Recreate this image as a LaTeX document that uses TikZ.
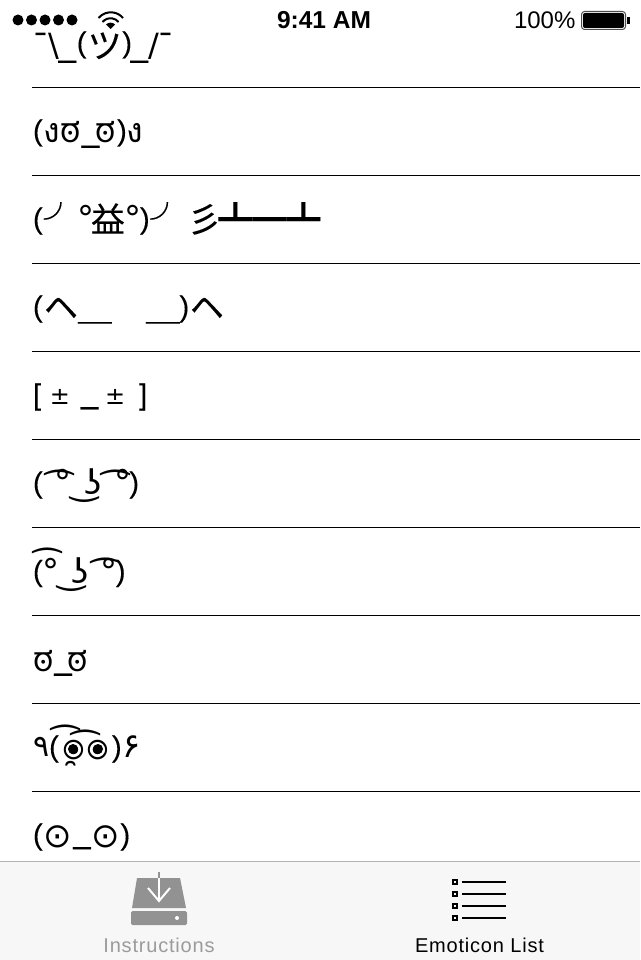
\documentclass[tikz,border=0pt]{standalone}
\usepackage{fontspec}
\setmainfont{Liberation Sans}
\newfontfamily\cjkfont[FakeBold=0.15]{Noto Sans CJK JP}
\newfontfamily\kanfont[Script=Kannada]{Hind Mysuru}
\newfontfamily\thaifont[Script=Thai]{Loma}
\newfontfamily\arabfont[Script=Arabic]{DejaVu Sans}
\newfontfamily\dejafont{DejaVu Sans}
\newfontfamily\parfont[FakeBold=0.2]{Liberation Sans}
\newfontfamily\tabfont[LetterSpace=4]{Liberation Sans}
\definecolor{tabgray}{HTML}{F7F7F7}
\definecolor{iconI}{HTML}{929292}
\definecolor{textI}{HTML}{9B9B9B}
\newcommand{\opar}{{\parfont\fontsize{29}{29}\selectfont(}\kern1.3pt}
\newcommand{\cpar}{\kern0.6pt{\parfont\fontsize{29}{29}\selectfont)}\kern0.7pt}
\newcommand{\obrk}{{\parfont\fontsize{29}{29}\selectfont[}\kern1.3pt}
\newcommand{\cbrk}{{\parfont\fontsize{29}{29}\selectfont]}\kern1.3pt}
\newcommand{\usc}{{\cjkfont\_}}
\newcommand{\topbar}{\raisebox{-5.7pt}{\dejafont ¯}}
\newcommand{\cjklow}[2]{\raisebox{#1pt}{\cjkfont #2}}
\newcommand{\kan}{\raisebox{-2.5pt}{\kanfont ಠ}}
\newcommand{\degr}{\raisebox{-2pt}{\dejafont °}}
\newcommand{\plusminus}{{\dejafont\fontsize{24}{24}\selectfont ±}}
\newcommand{\browarc}[2]{\rlap{\kern#1pt\raisebox{#2pt}{\dejafont\char"A0\char"361}}}
\newcommand{\eyeball}{\raisebox{-3pt}{\thaifont\fontsize{38}{38}\selectfont ๏}}
\tikzset{
  emote/.style={anchor=base west,inner sep=0pt,outer sep=0pt,font=\fontsize{34}{34}\selectfont},
  status/.style={anchor=base west,inner sep=0pt,outer sep=0pt,font=\fontsize{24}{24}\selectfont},
  tablabel/.style={anchor=base,inner sep=0pt,outer sep=0pt,font=\fontsize{20}{20}\selectfont\tabfont},
  rowline/.style={black,line width=1pt}
}
\begin{document}
\begin{tikzpicture}[x=1pt,y=-1pt]
  \useasboundingbox (0,0) rectangle (640,960);
  \fill[white] (0,0) rectangle (640,960);

  % row rules
  \foreach \ypos in {87.5,175.5,...,791.5}
    \draw[rowline] (32,\ypos) -- (640,\ypos);

  % emoticons
  \node[emote] (shrug) at (33,52.5) {\kern-1pt\topbar\kern-1pt\raisebox{-4.5pt}{\dejafont\fontsize{32}{32}\selectfont\textbackslash}\kern-1pt\cjklow{-5.5}{\_}\opar\cjklow{-5.5}{ツ}\cpar\kern-3pt\cjklow{-5.5}{\_}\raisebox{-4.5pt}{\dejafont\fontsize{32}{32}\selectfont/}\kern-2pt\topbar};
  \node[emote] (fight) at (33,140.5) {\opar\raisebox{-2pt}{\thaifont ง}\kan\raisebox{-2.5pt}{\usc}\kern-5pt\kan\kern1pt\cpar\kern-1pt\raisebox{-2pt}{\thaifont ง}};
  \node[emote] (flip) at (33,228.5) {\opar\cjklow{-3.5}{╯}\kern-0.5pt\degr\kern-3.5pt\cjklow{-3.5}{益}\degr\kern-2.5pt\cpar\cjklow{-3.5}{╯}\kern3pt\cjklow{-3.5}{彡}\kern-3pt\cjklow{-3.5}{┻━┻}};
  \node[emote] (bow) at (33,316.5) {\opar\cjklow{-3}{ヘ＿　＿}\kern-1pt\cpar\cjklow{-3}{ヘ}};
  \node[emote] (square) at (33,404.5) {\obrk\kern7.6pt\plusminus\kern10pt\usc\kern6pt\plusminus\kern14pt\cbrk};
  \node[emote] (lenny) at (33,492.5) {\opar\kern10.5pt\browarc{-6}{-9}\degr\kern13.5pt\raisebox{-2pt}{\dejafont ͜ʖ}\kern12.5pt\browarc{-10}{-9}\degr\kern-3pt\cpar};
  \node[emote] (brow) at (33,581) {\opar\kern-1pt\browarc{-6}{2}\degr\kern12pt\raisebox{-2pt}{\dejafont ͜ʖ}\kern11pt\browarc{-6}{-8}\degr\kern-2pt\cpar};
  \node[emote] (look) at (33,668.5) {\kan\raisebox{-2.5pt}{\usc}\kern-5pt\kan};
  \node[emote] (cheer) at (33,756.5) {{\arabfont\fontsize{30}{30}\selectfont ٩}\opar\kern2pt\browarc{-7}{0}\rlap{\kern7pt\raisebox{-2pt}{\dejafont\char"A0\char"32F}}\eyeball\kern1pt\browarc{-12}{-5}\eyeball\kern2pt\cpar\raisebox{-1pt}{\arabfont ۶}};
  \node[emote] (stare) at (33,844.5) {\opar\raisebox{-3pt}{\dejafont ⊙}\usc\raisebox{-3pt}{\dejafont ⊙}\cpar};

  % pupils of the cheer face
  \fill (73,749) circle (5);
  \fill (98,749) circle (5);

  % status bar
  \foreach \xpos in {18,31.5,45,58.5,72}
    \fill (\xpos,20) circle (5.5);
  \draw[line width=2pt] (98.5,18) arc[start angle=-140,end angle=-40,radius=16];
  \draw[line width=2pt] (102.5,22) arc[start angle=-140,end angle=-40,radius=10.5];
  \fill (110.5,29) -- (106,24.5) arc[start angle=-135,end angle=-45,radius=6.4] -- cycle;
  \node[status] (clock) at (277,29) {\fontsize{24.5}{24.5}\selectfont\bfseries 9:41 AM};
  \node[status] (charge) at (514,29) {100\%};
  \draw[black!70,rounded corners=3pt,line width=1pt] (581.5,11.5) rectangle (625.5,29.5);
  \fill[rounded corners=2pt] (583,13) rectangle (624,28);
  \fill (627,17) rectangle (629.5,24);

  % tab bar
  \fill[tabgray] (0,861) rectangle (640,960);
  \draw[black!30,line width=1pt] (0,861.5) -- (640,861.5);
  \fill[iconI] (137,878) -- (180,878) -- (186,908) -- (132,908) -- cycle;
  \fill[iconI,rounded corners=1.5pt] (131,911) rectangle (187,925);
  \fill[white] (177,918) circle (2);
  \draw[iconI,line width=1.5pt] (159,872) -- (159,878);
  \draw[white,line width=2pt] (159,878) -- (159,901);
  \draw[white,line width=2pt] (148,888) -- (159,901) -- (170,888);
  \node[tablabel,textI] (tabA) at (159,952.5) {Instructions};
  \foreach \ypos in {882,894,906,918}{
    \draw[line width=2.5pt] (452.8,\ypos-2.2) rectangle (457.2,\ypos+2.2);
    \draw[line width=2pt] (462,\ypos) -- (506,\ypos);
  }
  \node[tablabel] (tabB) at (479.5,952.5) {Emoticon List};
\end{tikzpicture}
\end{document}
